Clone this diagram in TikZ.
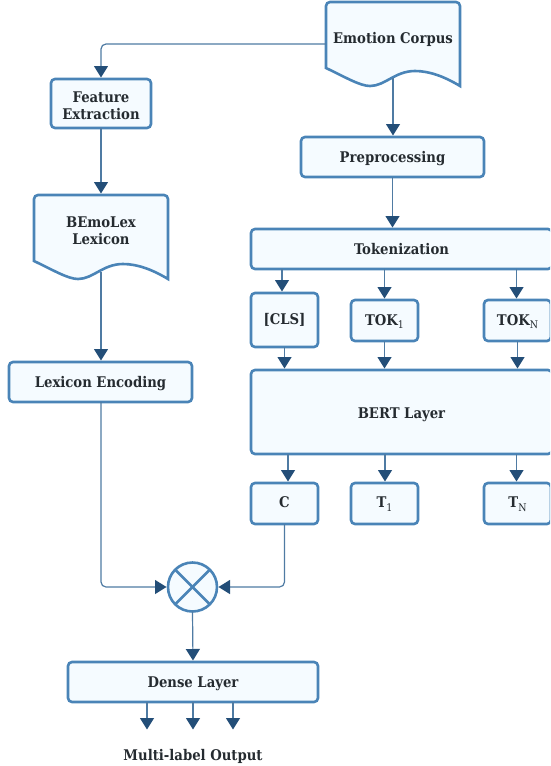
\documentclass[tikz,border=0pt]{standalone}
\usepackage{fontspec}
\setmainfont{DejaVu Serif Condensed}
\usetikzlibrary{arrows.meta,calc}
\definecolor{edgeblue}{HTML}{4A84B7}
\definecolor{fillblue}{HTML}{F5FBFF}
\definecolor{linkblue}{HTML}{4F7BA3}
\definecolor{tipblue}{HTML}{234E78}
\definecolor{inkdark}{HTML}{252B30}
\newcommand\lowsub[1]{\raisebox{-0.45ex}{\fontsize{10.5}{10.5}\selectfont\mdseries #1}}
\newcommand\tx[2]{\vphantom{Ajg}\raisebox{-#1pt}[0pt][0pt]{#2}}
\newcommand\docpath[1]{%
  \draw[docline] ($(#1)+(-67,30)$) [rounded corners=4pt] -- ($(#1)+(-67,-36)$) -- ($(#1)+(67,-36)$)
    [sharp corners] -- ($(#1)+(67,48)$)
    .. controls ($(#1)+(52,39)$) and ($(#1)+(37,33)$) .. ($(#1)+(22,33)$)
    .. controls ($(#1)+(2,33)$) and ($(#1)+(-8,48)$) .. ($(#1)+(-23,48)$)
    .. controls ($(#1)+(-33,48)$) and ($(#1)+(-48,39)$) .. ($(#1)+(-67,30)$) -- cycle;}
\tikzset{
  box/.style={draw=edgeblue,fill=fillblue,line width=2.6pt,rounded corners=4pt,
    inner sep=0pt,outer sep=0pt,align=center,text=inkdark,font=\bfseries\fontsize{14.7}{17}\selectfont},
  docline/.style={draw=edgeblue,fill=fillblue,line width=2.6pt},
  doctext/.style={inner sep=0pt,outer sep=0pt,align=center,text=inkdark,minimum width=134pt,font=\bfseries\fontsize{14.7}{17}\selectfont},
  conn/.style={draw=linkblue,line width=1.2pt,rounded corners=5pt,-{Triangle[length=11.5pt,width=14pt,color=tipblue]},shorten >=1.5pt},
  plainline/.style={draw=edgeblue,line width=2.6pt},
  caption/.style={inner sep=0pt,text=inkdark,font=\bfseries\fontsize{14.7}{17}\selectfont},
}
\begin{document}
\begin{tikzpicture}[x=1pt,y=-1pt]
\useasboundingbox (0,0) rectangle (550,766);
\clip (0,0) rectangle (550,766);
% document shapes
\coordinate (corpusc) at (393,38);
\coordinate (lexc) at (101,231);
\docpath{corpusc}
\docpath{lexc}
\node[doctext] (corpus) at (corpusc) {\tx{2}{Emotion Corpus}};
\node[doctext] (lexicon) at (lexc) {\tx{1}{BEmoLex}\\\tx{1}{Lexicon}};
\coordinate (corpusout) at (393,78);
\coordinate (lexout) at (101,272);
% boxes
\node[box,minimum width=183pt,minimum height=40pt] (prep) at (392.5,157) {\tx{2}{Preprocessing}};
\node[box,minimum width=100pt,minimum height=49pt] (feat) at (101,103.5) {\tx{4}{Feature}\\\tx{4}{Extraction}};
\node[box,minimum width=183pt,minimum height=40pt] (enc) at (100.5,382) {\tx{2}{Lexicon Encoding}};
\node[box,minimum width=301pt,minimum height=40pt] (tok) at (401.5,249) {\tx{1.5}{Tokenization}};
\node[box,minimum width=67pt,minimum height=54pt] (cls) at (284.5,320) {\tx{1}{[CLS]}};
\node[box,minimum width=67pt,minimum height=41pt] (tok1) at (384.5,320.5) {\tx{1}{TOK\lowsub{1}}};
\node[box,minimum width=67pt,minimum height=41pt] (tokn) at (517.5,320.5) {\tx{1}{TOK\lowsub{N}}};
\node[box,minimum width=301pt,minimum height=84pt] (bert) at (401.5,412) {\tx{3}{BERT Layer}};
\node[box,minimum width=67pt,minimum height=41pt] (c) at (284.5,503.5) {\tx{0.5}{C}};
\node[box,minimum width=67pt,minimum height=41pt] (t1) at (384.5,503.5) {\tx{0.5}{T\lowsub{1}}};
\node[box,minimum width=67pt,minimum height=41pt] (tn) at (517.5,503.5) {\tx{0.5}{T\lowsub{N}}};
\node[box,circle,minimum size=49pt] (mix) at (192.5,587) {};
\draw[plainline] (mix.45) -- (mix.225);
\draw[plainline] (mix.135) -- (mix.315);
\node[box,minimum width=250pt,minimum height=40pt] (dense) at (193,682) {\tx{2}{Dense Layer}};
\node[caption] (out) at (193,755) {\tx{2}{Multi-label Output}};
\coordinate (out1) at (147,731);
\coordinate (out2) at (193,731);
\coordinate (out3) at (233,731);
% connectors
\draw[conn] ([yshift=-6pt]corpus.west) -- (101,44) -- (feat.north);
\draw[conn] (corpusout) -- (prep.north -| corpusout);
\draw[conn] (prep.south) -- (tok.north -| prep.south);
\draw[conn] (feat.south) -- (lexicon.north |- 0,195);
\draw[conn] (lexout) -- (enc.north -| lexout);
\draw[conn] ([xshift=-2.5pt]tok.south -| cls.north) -- ([xshift=-2.5pt]cls.north);
\draw[conn] (tok.south -| tok1.north) -- (tok1.north);
\draw[conn] ([xshift=-1pt]tok.south -| tokn.north) -- ([xshift=-1pt]tokn.north);
\draw[conn] (cls.south) -- (bert.north -| cls.south);
\draw[conn] (tok1.south) -- (bert.north -| tok1.south);
\draw[conn] (tokn.south) -- (bert.north -| tokn.south);
\draw[conn] ([xshift=3.5pt]bert.south -| c.north) -- ([xshift=3.5pt]c.north);
\draw[conn] ([xshift=.5pt]bert.south -| t1.north) -- ([xshift=.5pt]t1.north);
\draw[conn] ([xshift=-1pt]bert.south -| tn.north) -- ([xshift=-1pt]tn.north);
\draw[conn] (enc.south -| 101,0) -- (101,587) -- (mix.west);
\draw[conn] (c.south) -- (c.south |- mix.east) -- (mix.east);
\draw[conn] (mix.south) -- (dense.north);
\draw[conn] (dense.south -| out1) -- (out1);
\draw[conn] (dense.south -| out2) -- (out2);
\draw[conn] (dense.south -| out3) -- (out3);
\end{tikzpicture}
\end{document}
